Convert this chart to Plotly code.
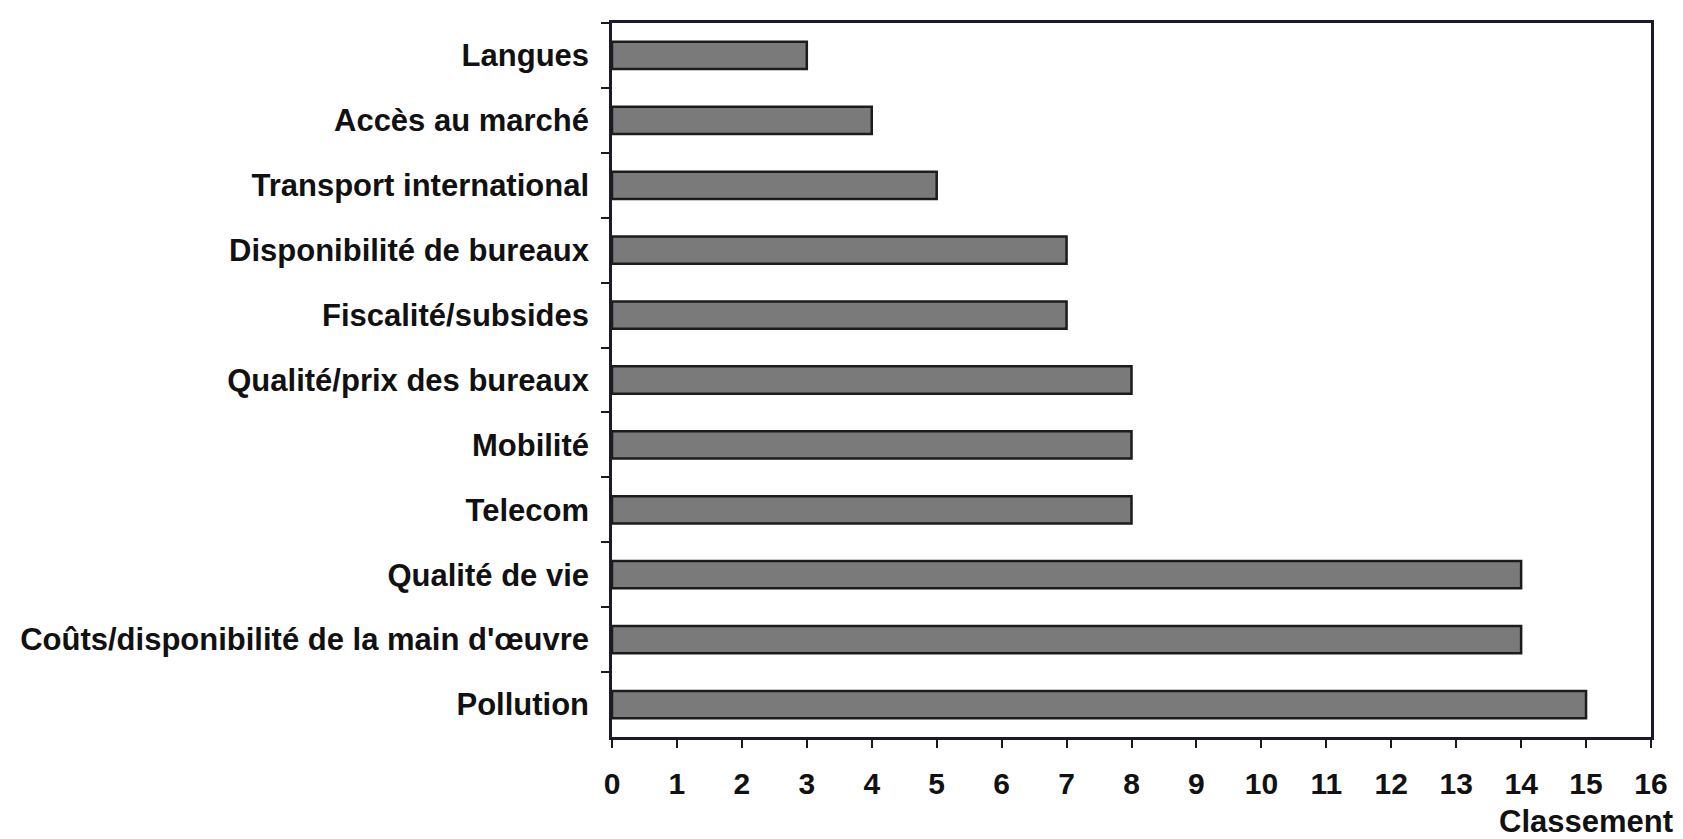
import plotly.graph_objects as go

categories = [
    "Langues",
    "Accès au marché",
    "Transport international",
    "Disponibilité de bureaux",
    "Fiscalité/subsides",
    "Qualité/prix des bureaux",
    "Mobilité",
    "Telecom",
    "Qualité de vie",
    "Coûts/disponibilité de la main d'œuvre",
    "Pollution",
]
values = [3, 4, 5, 7, 7, 8, 8, 8, 14, 14, 15]
x_ticks = list(range(0, 17))
x_title = "Classement"

font_family = "Liberation Sans, Arial, sans-serif"

fig = go.Figure(
    go.Bar(
        x=values,
        y=categories,
        orientation="h",
        marker=dict(color="#7a7a7a", line=dict(color="#1c1c1c", width=2.5)),
        width=0.42,
    )
)

fig.update_layout(
    width=1675,
    height=831,
    margin=dict(l=604, r=32, t=12, b=102),
    paper_bgcolor="white",
    plot_bgcolor="white",
    showlegend=False,
    font=dict(family=font_family, size=30, color="#111111"),
)

fig.update_xaxes(
    range=[0, 16],
    tickvals=x_ticks,
    ticktext=[str(v) for v in x_ticks],
    showgrid=False,
    zeroline=False,
    showline=True,
    linecolor="#1a1a2a",
    linewidth=2.5,
    mirror=True,
    ticks="outside",
    ticklen=8,
    tickwidth=2,
    tickcolor="#1a1a1a",
    tickfont=dict(family=font_family, size=30, color="#111111", weight="bold"),
    ticklabelstandoff=10,
)

fig.update_yaxes(
    type="category",
    categoryorder="array",
    categoryarray=categories,
    range=[10.5, -0.5],
    tickson="boundaries",
    showgrid=False,
    zeroline=False,
    showline=True,
    linecolor="#1a1a2a",
    linewidth=2.5,
    mirror=True,
    ticks="outside",
    ticklen=8,
    tickwidth=2,
    tickcolor="#1a1a1a",
    tickfont=dict(family=font_family, size=31, color="#111111", weight="bold"),
    ticklabelstandoff=14,
)

fig.add_annotation(
    text=x_title,
    xref="paper",
    yref="paper",
    x=1.023,
    y=-0.1185,
    xanchor="right",
    yanchor="middle",
    showarrow=False,
    font=dict(family=font_family, size=31, color="#111111", weight="bold"),
)

fig.write_html("out.html")
